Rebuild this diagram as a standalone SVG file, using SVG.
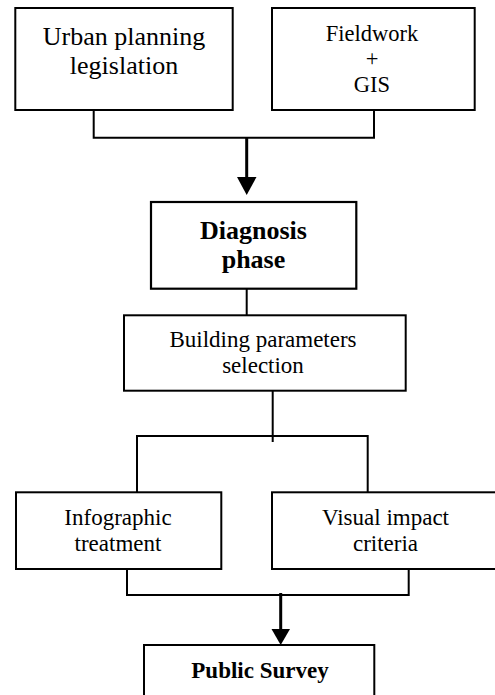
<svg xmlns="http://www.w3.org/2000/svg" width="495" height="695" viewBox="0 0 495 695">
<style>
  .box { fill: #ffffff; stroke: #000000; stroke-width: 2; }
  .t { font-family: "Liberation Serif", "Times New Roman", serif; fill: #000000; text-anchor: middle; }
  .b { font-weight: bold; }
  .c { fill: none; stroke: #000000; stroke-width: 2; }
  .a { fill: none; stroke: #000000; stroke-width: 3; }
  .h { fill: #000000; stroke: none; }
</style>
<rect width="495" height="695" fill="#ffffff"/>
<g id="connectors">
  <polyline class="c" points="93.7,110 93.7,137.7 374,137.7 374,110"/>
  <line class="a" x1="246.7" y1="137.7" x2="246.7" y2="180"/>
  <polygon class="h" points="237,177 256.5,177 246.7,195"/>
  <line class="c" x1="246.7" y1="288.7" x2="246.7" y2="315.3"/>
  <line class="c" x1="272.7" y1="390.7" x2="272.7" y2="442"/>
  <polyline class="c" points="137,492.3 137,436 367.7,436 367.7,492.3"/>
  <polyline class="c" points="127,569 127,595 408.7,595 408.7,569"/>
  <line class="a" x1="280.7" y1="593" x2="280.7" y2="632"/>
  <polygon class="h" points="271.5,629 290,629 280.7,645"/>
</g>
<g id="urban">
  <rect class="box" x="15.3" y="8" width="217.4" height="102"/>
  <text class="t" x="124" y="45" font-size="26">Urban planning</text>
  <text class="t" x="124" y="74" font-size="26">legislation</text>
</g>
<g id="fieldwork">
  <rect class="box" x="272" y="8" width="202.7" height="102"/>
  <text class="t" x="372" y="40.7" font-size="22.5">Fieldwork</text>
  <text class="t" x="372" y="66" font-size="22.5">+</text>
  <text class="t" x="372" y="91.7" font-size="22.5">GIS</text>
</g>
<g id="diagnosis">
  <rect class="box" x="151" y="202" width="205.3" height="86.7" style="stroke-width:2.2"/>
  <text class="t b" x="253.5" y="239.3" font-size="26">Diagnosis</text>
  <text class="t b" x="253.5" y="268.3" font-size="26">phase</text>
</g>
<g id="building">
  <rect class="box" x="124" y="315.3" width="281.7" height="75.4"/>
  <text class="t" x="263" y="346.7" font-size="23">Building parameters</text>
  <text class="t" x="263" y="372.7" font-size="23">selection</text>
</g>
<g id="infographic">
  <rect class="box" x="16" y="492.3" width="205.3" height="76.7"/>
  <text class="t" x="118" y="525" font-size="23">Infographic</text>
  <text class="t" x="118" y="550.7" font-size="23">treatment</text>
</g>
<g id="visual">
  <rect class="box" x="272" y="492.3" width="230" height="76.7"/>
  <text class="t" x="385.5" y="525" font-size="23">Visual impact</text>
  <text class="t" x="385.5" y="550.7" font-size="23">criteria</text>
</g>
<g id="survey">
  <rect class="box" x="144" y="645" width="230.3" height="60"/>
  <text class="t b" x="260" y="677.7" font-size="23">Public Survey</text>
</g>
</svg>
